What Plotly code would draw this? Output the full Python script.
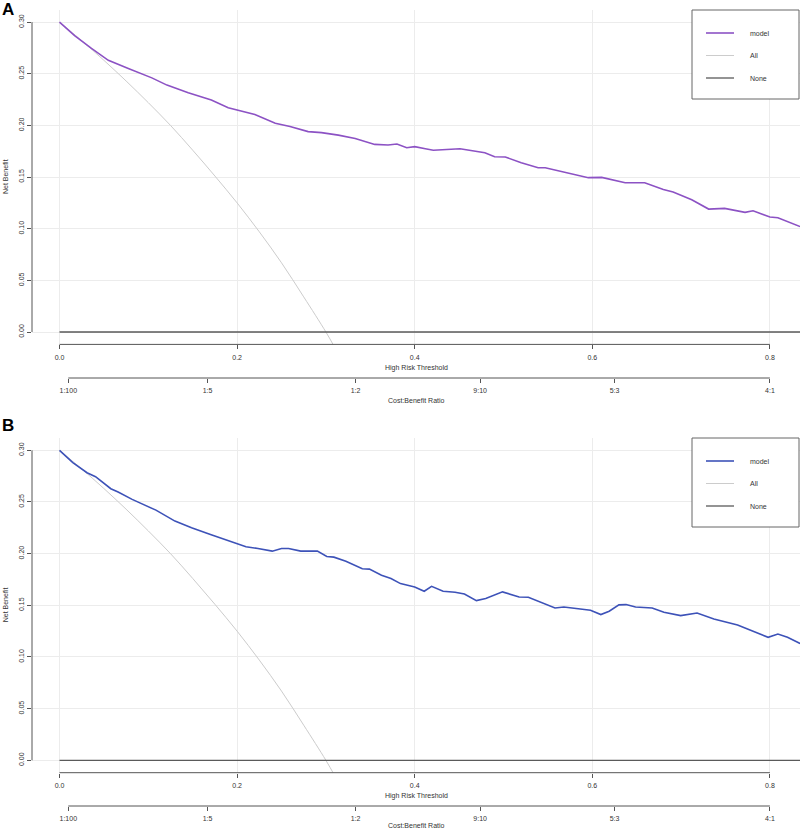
import plotly.graph_objects as go

# decision curve, panel A (model net benefit)
thresh_a = [0.0, 0.017, 0.036, 0.055, 0.0775, 0.104, 0.121, 0.145, 0.171, 0.190, 0.220,
            0.243, 0.2596, 0.280, 0.295, 0.314, 0.333, 0.355, 0.370, 0.380, 0.391, 0.400,
            0.412, 0.421, 0.451, 0.479, 0.490, 0.502, 0.520, 0.539, 0.547, 0.573, 0.5955,
            0.6106, 0.637, 0.659, 0.680, 0.691, 0.712, 0.731, 0.749, 0.772, 0.781, 0.800,
            0.809, 0.834]
model_a = [0.300, 0.287, 0.2745, 0.263, 0.255, 0.246, 0.239, 0.2316, 0.2245, 0.217, 0.2106,
           0.202, 0.199, 0.194, 0.193, 0.1906, 0.1874, 0.1816, 0.181, 0.182, 0.1784, 0.1794,
           0.1774, 0.176, 0.1774, 0.1735, 0.1697, 0.1694, 0.1639, 0.159, 0.159, 0.1539, 0.1494,
           0.1497, 0.1445, 0.1445, 0.138, 0.1355, 0.128, 0.119, 0.1197, 0.1158, 0.1174, 0.1113,
           0.1106, 0.102]

# panel B
thresh_b = [0.0, 0.015, 0.031, 0.0406, 0.0578, 0.066, 0.0818, 0.0979, 0.1086, 0.130, 0.1487,
            0.170, 0.1914, 0.210, 0.2235, 0.2396, 0.250, 0.258, 0.2717, 0.2904, 0.301, 0.309,
            0.3225, 0.341, 0.349, 0.3626, 0.3733, 0.384, 0.400, 0.4107, 0.419, 0.432, 0.4455,
            0.456, 0.4695, 0.480, 0.4989, 0.5176, 0.528, 0.544, 0.558, 0.568, 0.582, 0.598,
            0.6096, 0.619, 0.630, 0.638, 0.6487, 0.6674, 0.6807, 0.6995, 0.718, 0.7369,
            0.7636, 0.7824, 0.798, 0.809, 0.8198, 0.834]
model_b = [0.300, 0.288, 0.2783, 0.2745, 0.2628, 0.2596, 0.2525, 0.2467, 0.2421, 0.2315, 0.225,
           0.2185, 0.2121, 0.2066, 0.205, 0.2024, 0.205, 0.205, 0.2024, 0.2024, 0.1972, 0.1966,
           0.1927, 0.1853, 0.185, 0.1791, 0.1759, 0.171, 0.1678, 0.1636, 0.1684, 0.1636, 0.1626,
           0.161, 0.1545, 0.1565, 0.163, 0.1581, 0.1578, 0.1523, 0.1474, 0.1484, 0.1468, 0.1452,
           0.141, 0.1442, 0.1504, 0.1507, 0.1484, 0.1474, 0.1432, 0.140, 0.1426, 0.1368,
           0.131, 0.1248, 0.119, 0.1222, 0.119, 0.113]

# treat-all curve (same prevalence in both panels)
all_thresh = [0.0, 0.025, 0.05, 0.075, 0.10, 0.125, 0.15, 0.175, 0.20, 0.225, 0.25, 0.275, 0.30, 0.31]
all_nb = [0.300, 0.282, 0.263, 0.243, 0.222, 0.200, 0.176, 0.151, 0.125, 0.097, 0.067, 0.034, 0.000, -0.015]

none_thresh = [0.0, 0.95]
none_nb = [0.0, 0.0]

x_ticks = [0.0, 0.2, 0.4, 0.6, 0.8]
y_ticks = [0.00, 0.05, 0.10, 0.15, 0.20, 0.25, 0.30]
ratio_labels = ["1:100", "1:5", "1:2", "9:10", "5:3", "4:1"]
ratio_pos = []
for r in ratio_labels:
    a, b = r.split(":")
    ratio_pos.append(float(a) / (float(a) + float(b)))

W, H = 800, 830
FONT = "Liberation Sans, Arial, sans-serif"
TXT = "#333333"
AX = "#555555"
GRID = "#ececec"

def py(px):
    return 1 - px / H

panels = [
    # name, model x, model y, colour, y-domain px (top, bottom), cost axis px, threshold title px, ratio title px, legend top px, label y px
    ("A", thresh_a, model_a, "#8c52c4", (9.7, 344.4), 378, 368, 400, 10, 9),
    ("B", thresh_b, model_b, "#3d52b8", (437.9, 772.7), 806, 796, 825, 438, 426),
]

xr = [(32 - 59.5) / 888, (800 - 59.5) / 888]
fig = go.Figure()
shapes, annots = [], []

for i, (lab, tx, ty, col, (ytop, ybot), cb_px, t1_px, t2_px, leg_top, lab_y) in enumerate(panels):
    n = i + 1
    xa = "x" if n == 1 else "x2"
    ya = "y" if n == 1 else "y2"
    fig.add_trace(go.Scatter(x=all_thresh, y=all_nb, mode="lines", line=dict(color="#cccccc", width=1, shape="spline"),
                             xaxis=xa, yaxis=ya, showlegend=False))
    fig.add_trace(go.Scatter(x=none_thresh, y=none_nb, mode="lines", line=dict(color="#5a5a5a", width=1.3),
                             xaxis=xa, yaxis=ya, showlegend=False))
    fig.add_trace(go.Scatter(x=tx, y=ty, mode="lines", line=dict(color=col, width=1.6),
                             xaxis=xa, yaxis=ya, showlegend=False))
    # empty trace so the cost:benefit axis gets drawn
    fig.add_trace(go.Scatter(x=[ratio_pos[0]], y=[None], mode="lines", xaxis="x%d" % (n + 2), yaxis=ya,
                             showlegend=False, hoverinfo="skip"))

    dom = [py(ybot), py(ytop)]
    span = (ybot - ytop) - 24.8
    k = 0.30 / span
    yr = [-12.4 * k, 0.30 + 12.4 * k]
    common = dict(tickfont=dict(family=FONT, size=7, color=TXT), ticks="outside", ticklen=4,
                  tickcolor=AX, tickwidth=1, showline=False, zeroline=False,
                  showgrid=True, gridcolor=GRID, gridwidth=1)
    xkey = "xaxis" if n == 1 else "xaxis2"
    ykey = "yaxis" if n == 1 else "yaxis2"
    fig.update_layout(**{
        xkey: dict(domain=[32 / W, 1], range=xr, anchor=ya, tickvals=x_ticks, tickformat=".1f",
                   ticklabelstandoff=2, **common),
        ykey: dict(domain=dom, range=yr, anchor=xa, tickvals=y_ticks, tickformat=".2f", tickangle=-90, **common),
    })
    # cost:benefit axis
    ckey = "xaxis%d" % (n + 2)
    fig.update_layout(**{ckey: dict(overlaying=xa, anchor="free", position=py(cb_px), side="bottom",
                                    range=xr, tickvals=ratio_pos, ticktext=ratio_labels,
                                    tickfont=dict(family=FONT, size=7, color=TXT), ticks="outside",
                                    ticklen=4, tickcolor=AX, ticklabelstandoff=2,
                                    showgrid=False, showline=False, zeroline=False)})
    # R-style axis lines spanning first to last tick
    shapes.append(dict(type="line", xref=xa + " domain", yref=ya, x0=0, x1=0, y0=0, y1=0.30,
                       line=dict(color=AX, width=1)))
    shapes.append(dict(type="line", xref=xa, yref=ya + " domain", x0=0, x1=0.8, y0=0, y1=0,
                       line=dict(color=AX, width=1)))
    shapes.append(dict(type="line", xref=xa, yref="paper", x0=ratio_pos[0], x1=ratio_pos[-1],
                       y0=py(cb_px), y1=py(cb_px), line=dict(color=AX, width=1)))

    annots += [
        dict(text="<b>%s</b>" % lab, x=0, y=py(lab_y), xref="paper", yref="paper", xanchor="left",
             yanchor="middle", showarrow=False, font=dict(family=FONT, size=17, color="black")),
        dict(text="High Risk Threshold", x=416 / W, y=py(t1_px), xref="paper", yref="paper",
             xanchor="center", yanchor="middle", showarrow=False, font=dict(family=FONT, size=7, color=TXT)),
        dict(text="Cost:Benefit Ratio", x=416 / W, y=py(t2_px), xref="paper", yref="paper",
             xanchor="center", yanchor="middle", showarrow=False, font=dict(family=FONT, size=7, color=TXT)),
        dict(text="Net Benefit", x=5 / W, y=py((ytop + ybot) / 2), xref="paper", yref="paper",
             xanchor="center", yanchor="middle", textangle=-90, showarrow=False,
             font=dict(family=FONT, size=7, color=TXT)),
    ]

    # legend box drawn R-style
    shapes.append(dict(type="rect", xref="paper", yref="paper", x0=692 / W, x1=799 / W,
                       y0=py(leg_top + 89), y1=py(leg_top), line=dict(color="#666666", width=1),
                       fillcolor="white", layer="above"))
    for name, c, w, dy in [("model", col, 1.6, 23), ("All", "#cccccc", 1, 45.5), ("None", "#5a5a5a", 1.3, 68)]:
        shapes.append(dict(type="line", xref="paper", yref="paper", x0=706 / W, x1=734 / W,
                           y0=py(leg_top + dy), y1=py(leg_top + dy), line=dict(color=c, width=w), layer="above"))
        annots.append(dict(text=name, x=748 / W, y=py(leg_top + dy), xref="paper", yref="paper",
                           xanchor="left", yanchor="middle", showarrow=False,
                           font=dict(family=FONT, size=7, color=TXT)))

fig.update_layout(width=W, height=H, margin=dict(l=0, r=0, t=0, b=0),
                  plot_bgcolor="white", paper_bgcolor="white",
                  shapes=shapes, annotations=annots, showlegend=False)

fig.write_html("out.html", config={"displayModeBar": False},
               post_script="document.body.style.margin='0';document.body.style.overflow='hidden';")
